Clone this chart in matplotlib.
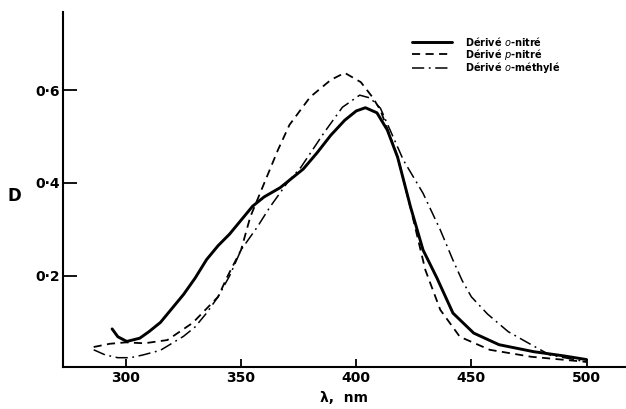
import matplotlib
matplotlib.use("Agg")
import matplotlib.pyplot as plt

# absorption spectra (wavelength in nm, optical density D)
wl_ortho = [294, 296.5, 300.4, 306, 310, 315, 320, 325, 330, 335, 340, 345, 350,
            355, 360, 367, 372, 377, 383, 389, 395, 400, 404, 409, 413.5, 418,
            423.5, 429, 435, 442, 451, 462, 477, 490, 500]
d_ortho = [0.086, 0.069, 0.059, 0.066, 0.08, 0.10, 0.13, 0.16, 0.195, 0.235, 0.265,
           0.29, 0.32, 0.35, 0.37, 0.39, 0.41, 0.43, 0.465, 0.503, 0.535, 0.555,
           0.562, 0.551, 0.514, 0.455, 0.35, 0.256, 0.196, 0.12, 0.077, 0.052,
           0.037, 0.028, 0.02]

wl_para = [286, 293, 300, 308, 318, 329, 340, 344, 350, 354, 357, 366, 371, 380,
           389, 395, 402, 407, 410.5, 418, 423.5, 430, 436.5, 445, 458, 476, 500]
d_para = [0.047, 0.054, 0.057, 0.055, 0.062, 0.099, 0.155, 0.198, 0.256, 0.327,
          0.363, 0.471, 0.525, 0.585, 0.622, 0.637, 0.617, 0.585, 0.557, 0.456,
          0.348, 0.213, 0.127, 0.069, 0.041, 0.026, 0.015]

wl_methyl = [286, 291, 296.5, 302, 307.5, 315, 320, 325, 330, 335, 340, 345, 350,
             357, 362.5, 370, 376, 386, 394, 401.5, 406, 410.5, 420.5, 429, 436.5,
             442, 446, 450, 457, 466, 476, 484, 500]
d_methyl = [0.041, 0.030, 0.024, 0.024, 0.030, 0.04, 0.055, 0.07, 0.09, 0.12,
            0.155, 0.2, 0.256, 0.305, 0.348, 0.4, 0.434, 0.508, 0.563, 0.589,
            0.583, 0.561, 0.449, 0.378, 0.299, 0.234, 0.19, 0.155, 0.118, 0.08,
            0.052, 0.03, 0.015]

xticks = [300, 350, 400, 450, 500]
yticks = [0.2, 0.4, 0.6]
ytick_labels = ["0·2", "0·4", "0·6"]

fig = plt.figure(figsize=(6.26, 4.09), dpi=100)
ax = fig.add_axes([0.100, 0.1027, 0.898, 0.868])

ax.plot(wl_ortho, d_ortho, color="black", lw=2.1, solid_capstyle="round",
        label=r"Dérivé $\mathit{o}$-nitré")
ax.plot(wl_para, d_para, color="black", lw=1.3, dashes=(4.5, 3),
        label=r"Dérivé $\mathit{p}$-nitré")
ax.plot(wl_methyl, d_methyl, color="black", lw=1.1, dashes=(8, 3, 1.2, 3),
        label=r"Dérivé $\mathit{o}$-méthylé")

ax.set_xlim(272.5, 516.6)
ax.set_ylim(0.004, 0.768)

for side in ["top", "right"]:
    ax.spines[side].set_visible(False)
for side in ["left", "bottom"]:
    ax.spines[side].set_linewidth(1.5)

ax.set_xticks(xticks)
ax.set_xticklabels([str(t) for t in xticks], fontsize=10, fontweight="bold")
ax.set_yticks(yticks)
ax.set_yticklabels(ytick_labels, fontsize=10, fontweight="bold")
ax.tick_params(axis="x", direction="in", length=6, width=1.3, pad=3)
ax.tick_params(axis="y", direction="in", length=10, width=1.3, pad=2)

ax.set_xlabel("λ,  nm", fontsize=10, fontweight="bold", labelpad=4)
ax.set_ylabel("D", fontsize=12, fontweight="bold", rotation=0)
ax.yaxis.set_label_coords(-0.085, 0.456)

ax.legend(loc="upper left", bbox_to_anchor=(0.658, 0.915),
          bbox_transform=fig.transFigure, frameon=False,
          prop={"weight": "bold", "size": 7}, handlelength=4.1,
          handletextpad=1.4, labelspacing=-0.12, borderpad=0, borderaxespad=0)

fig.savefig("out.png", dpi=100)
